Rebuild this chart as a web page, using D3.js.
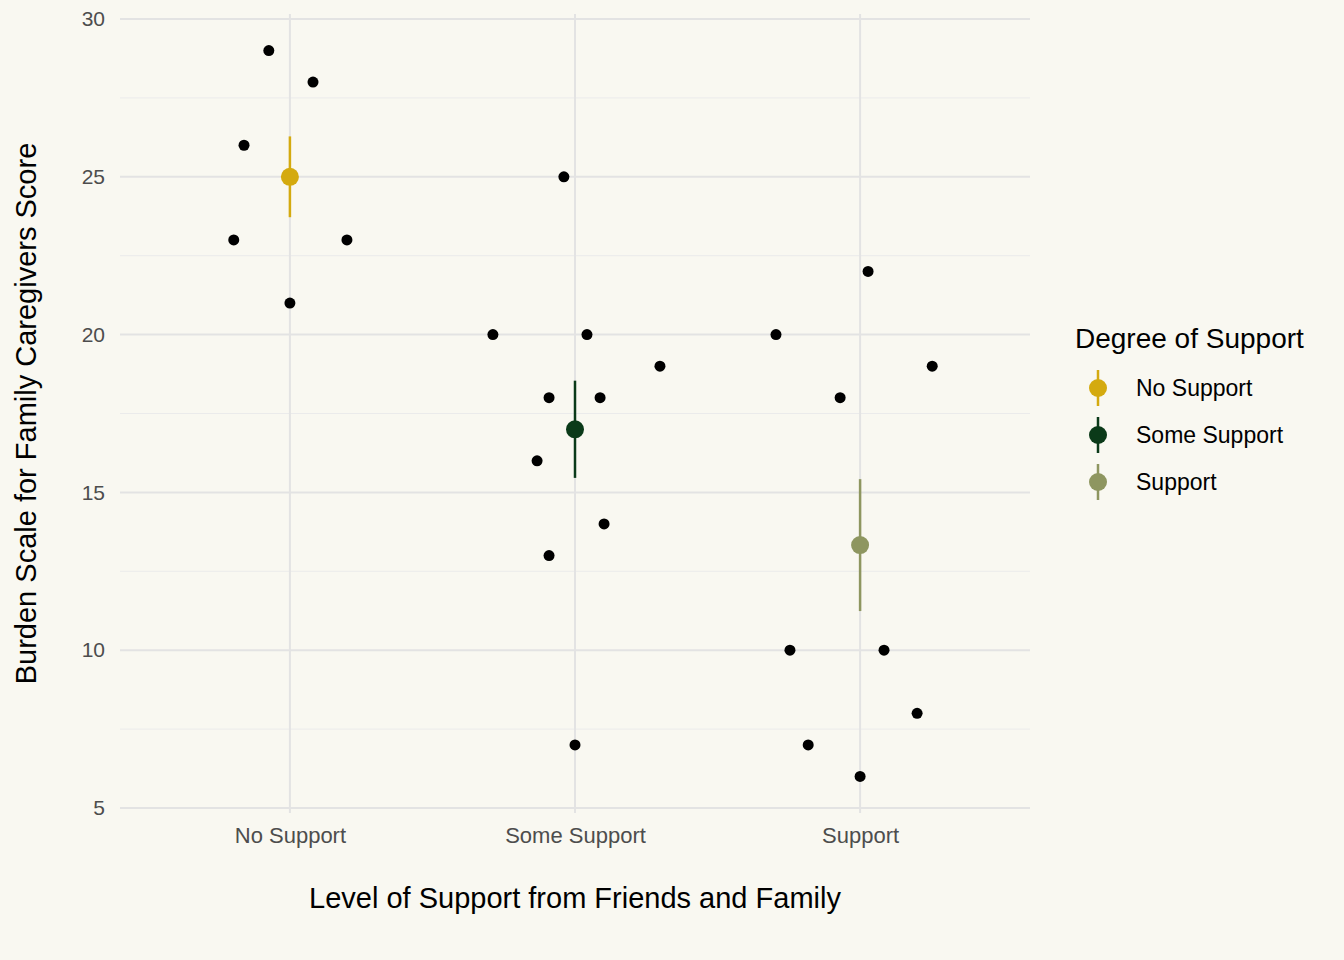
<!DOCTYPE html>
<html><head><meta charset="utf-8">
<script src="https://cdn.jsdelivr.net/npm/d3@7"></script>
<style>body{margin:0;background:#F9F8F1;}svg{font-family:"Liberation Sans",Arial,sans-serif;}</style>
</head><body><svg id="chart" width="1344" height="960"></svg>
<script>
var categories = ["No Support", "Some Support", "Support"];
var colors = ["#D4AA0F", "#0B3A19", "#8E9660"];
// raw points: group, jitter (fraction of category step), score
var pointGroup = [0,0,0,0,0,0, 1,1,1,1,1,1,1,1,1,1, 2,2,2,2,2,2,2,2,2];
var pointJitter = [-0.197,-0.161,-0.074,0,0.081,0.2,
  -0.288,-0.133,-0.091,-0.091,-0.039,0,0.042,0.088,0.102,0.298,
  -0.295,-0.246,-0.182,-0.07,0,0.028,0.084,0.200,0.253];
var pointScore = [23,26,29,21,28,23, 20,16,18,13,25,7,20,18,14,19, 20,10,7,18,6,22,10,8,19];
var means = [25, 17, 13.33];
var lower = [23.72, 15.46, 11.24];
var upper = [26.28, 18.54, 15.42];
var yTicks = [5,10,15,20,25,30];
var yMinor = [7.5,12.5,17.5,22.5,27.5];

var svg = d3.select("#chart");
var M = {left:120, right:1030, top:19, bottom:808};
var x = d3.scalePoint().domain(categories).range([M.left, M.right]).padding(0.596);
var step = x.step();
var y = d3.scaleLinear().domain([5,30]).range([M.bottom, M.top]);
var grid = svg.append("g");
grid.selectAll(".mn").data(yMinor).enter().append("line")
  .attr("x1",M.left).attr("x2",M.right).attr("y1",d=>y(d)).attr("y2",d=>y(d))
  .attr("stroke","#EBEBEB").attr("stroke-width",1);
grid.selectAll(".mj").data(yTicks).enter().append("line")
  .attr("x1",M.left).attr("x2",M.right).attr("y1",d=>y(d)).attr("y2",d=>y(d))
  .attr("stroke","#E3E3E3").attr("stroke-width",2);
grid.selectAll(".vx").data(categories).enter().append("line")
  .attr("x1",d=>x(d)).attr("x2",d=>x(d)).attr("y1",M.top-5).attr("y2",M.bottom+5)
  .attr("stroke","#E3E3E3").attr("stroke-width",2);

var yAxis = svg.append("g").attr("transform","translate("+(M.left-12)+",0)")
  .call(d3.axisLeft(y).tickValues(yTicks).tickSize(0));
var xAxis = svg.append("g").attr("transform","translate(0,"+(M.bottom+16)+")")
  .call(d3.axisBottom(x).tickSize(0));
[xAxis,yAxis].forEach(a=>{a.select(".domain").remove();
  a.selectAll("text").attr("font-size",21).attr("fill","#4D4D4D").attr("font-family","Liberation Sans, Arial, sans-serif");});
xAxis.selectAll("text").attr("font-size",22).attr("dy","0.71em");

svg.selectAll(".pt").data(pointScore).enter().append("circle")
  .attr("cx",(d,i)=>x(categories[pointGroup[i]])+pointJitter[i]*step)
  .attr("cy",d=>y(d)).attr("r",5.5).attr("fill","#000");

categories.forEach(function(c,i){
  svg.append("line").attr("x1",x(c)).attr("x2",x(c)).attr("y1",y(lower[i])).attr("y2",y(upper[i]))
    .attr("stroke",colors[i]).attr("stroke-width",2.5);
  svg.append("circle").attr("cx",x(c)).attr("cy",y(means[i])).attr("r",9).attr("fill",colors[i]);
});

svg.append("text").attr("x",(M.left+M.right)/2).attr("y",908).attr("text-anchor","middle")
  .attr("font-size",29).text("Level of Support from Friends and Family");
svg.append("text").attr("transform","translate(36,"+(M.top+M.bottom)/2+") rotate(-90)")
  .attr("text-anchor","middle").attr("font-size",29).text("Burden Scale for Family Caregivers Score");

var lg = svg.append("g");
lg.append("text").attr("x",1075).attr("y",348).attr("font-size",28).text("Degree of Support");
categories.forEach(function(c,i){
  var cy = 388 + i*47;
  lg.append("line").attr("x1",1098).attr("x2",1098).attr("y1",cy-18).attr("y2",cy+18)
    .attr("stroke",colors[i]).attr("stroke-width",2.5);
  lg.append("circle").attr("cx",1098).attr("cy",cy).attr("r",9).attr("fill",colors[i]);
  lg.append("text").attr("x",1136).attr("y",cy+8).attr("font-size",23).text(c);
});
</script></body></html>
